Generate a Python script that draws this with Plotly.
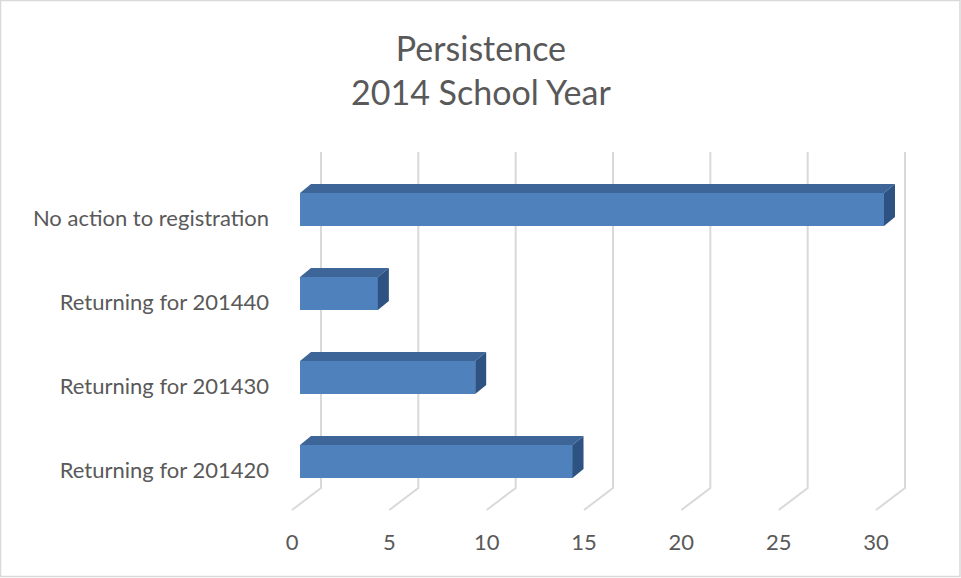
import plotly.graph_objects as go

# ---- data ----
categories = ["Returning for 201420", "Returning for 201430", "Returning for 201440", "No action to registration"]
values = [14, 9, 4, 30]
tick_values = [0, 5, 10, 15, 20, 25, 30]
title_lines = ["Persistence", "2014 School Year"]

# ---- styling / geometry (axis units) ----
FONT = "Lato"
TXT = "#595959"
GRID = "#D9D9D9"
FRONT = "#4F81BD"
TOP = "#3D6597"
SIDE = "#2E5382"

PX_X = 584 / 30.0      # px per value unit
PX_Y = 84.0            # px per category

bar_x0 = 8 / PX_X                  # bar front plane offset from floor front
bar_lo, bar_hi = -8 / PX_Y, 25 / PX_Y
dx, dy = 11 / PX_X, 9 / PX_Y       # bar depth
wall_dx = 29 / PX_X                # back wall offset
floor_back_y = -18 / PX_Y
floor_front_y = -40 / PX_Y
grid_top_y = 318 / PX_Y

fig = go.Figure()

# gridlines on back wall + floor diagonals (drawn beneath the bars)
grid_shapes = []
for t in tick_values:
    grid_shapes.append(dict(
        type="path", xref="x", yref="y", layer="below",
        path=f"M {t + wall_dx},{grid_top_y} L {t + wall_dx},{floor_back_y} L {t},{floor_front_y}",
        line=dict(color=GRID, width=2)))

ks = list(range(len(categories)))

# front faces
fig.add_trace(go.Bar(
    orientation="h", y=[k + (bar_lo + bar_hi) / 2 for k in ks], x=values,
    base=[bar_x0] * len(values), width=bar_hi - bar_lo,
    marker=dict(color=FRONT, line=dict(width=0)), showlegend=False,
    hovertext=categories, hoverinfo="text+x"))

# top and side faces
for k, v in zip(ks, values):
    x1 = bar_x0 + v
    yt, yb = k + bar_hi, k + bar_lo
    fig.add_trace(go.Scatter(
        x=[bar_x0, bar_x0 + dx, x1 + dx, x1, bar_x0],
        y=[yt, yt + dy, yt + dy, yt, yt],
        fill="toself", fillcolor=TOP, mode="lines", line=dict(width=0, color=TOP),
        hoverinfo="skip", showlegend=False))
    fig.add_trace(go.Scatter(
        x=[x1, x1 + dx, x1 + dx, x1, x1],
        y=[yt, yt + dy, yb + dy, yb, yt],
        fill="toself", fillcolor=SIDE, mode="lines", line=dict(width=0, color=SIDE),
        hoverinfo="skip", showlegend=False))

L, R, T, B = 280, 920, 140, 525
W, H = 961, 578
x_lo = (L - 292) / PX_X
x_hi = (R - 292) / PX_X
y_hi = (470 - T) / PX_Y
y_lo = (470 - B) / PX_Y

border = dict(type="rect", xref="paper", yref="paper",
              x0=(0.5 - L) / (R - L), x1=(960 - L) / (R - L),
              y0=(B - 576.5) / (B - T), y1=(B - 0.5) / (B - T),
              line=dict(color=GRID, width=1.5), fillcolor="rgba(0,0,0,0)", layer="below")

fig.update_layout(
    width=W, height=H,
    margin=dict(l=L, r=W - R, t=T, b=H - B, pad=0),
    paper_bgcolor="white", plot_bgcolor="white",
    font=dict(family=FONT, color=TXT, size=22),
    xaxis=dict(range=[x_lo, x_hi], tickvals=tick_values, showgrid=False, zeroline=False,
               showline=False, ticks="", tickfont=dict(size=22, color=TXT), fixedrange=True,
               ticklabelstandoff=2),
    yaxis=dict(range=[y_lo, y_hi], tickvals=ks, ticktext=categories, showgrid=False,
               zeroline=False, showline=False, ticks="", tickfont=dict(size=22, color=TXT),
               fixedrange=True, ticklabelstandoff=10),
    bargap=0,
    annotations=[dict(
        text="<br>".join(title_lines), xref="paper", yref="paper",
        x=(480.5 - L) / (R - L), y=(B - 69) / (B - T), xanchor="center", yanchor="middle",
        showarrow=False, font=dict(size=34, color=TXT, family=FONT))],
    shapes=grid_shapes + [border],
)

fig.write_html("out.html")
